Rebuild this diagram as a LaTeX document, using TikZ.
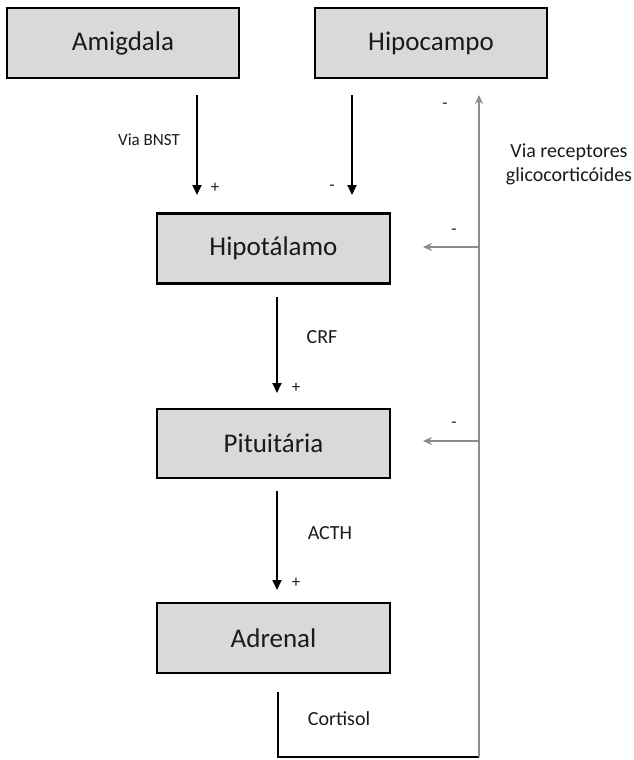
\documentclass[tikz,border=0pt]{standalone}
\usepackage{fontspec}
\setmainfont{Carlito}
\usetikzlibrary{arrows.meta}
\definecolor{boxgray}{HTML}{D9D9D9}
\definecolor{fbgray}{HTML}{8C8C8C}
\definecolor{txt}{HTML}{1A1A1A}
\begin{document}
\begin{tikzpicture}[x=1pt,y=-1pt,
  box/.style={draw=black, line width=2.2pt, fill=boxgray, inner sep=0pt,
    text=txt, font=\fontsize{27}{31}\selectfont},
  lbl/.style={text=txt, font=\fontsize{20}{24}\selectfont, inner sep=0pt},
  smalllbl/.style={text=txt, font=\fontsize{17}{20}\selectfont, inner sep=0pt},
  sign/.style={text=txt, font=\fontsize{17}{18}\selectfont, inner sep=0pt},
  blackarrow/.style={draw=black, line width=1.8pt, -{Triangle[length=10pt,width=9pt]}},
  grayarrow/.style={draw=fbgray, line width=2pt, -{Stealth[length=9pt,width=8pt]}}]
\useasboundingbox (0,0) rectangle (633,760);

% boxes
\node[box, minimum width=232pt, minimum height=70pt] (amig) at (123,43) {Amigdala};
\node[box, minimum width=232pt, minimum height=70pt] (hipoc) at (431,43) {Hipocampo};
\node[box, minimum width=233pt, minimum height=70pt] (hipot) at (273.5,248.5) {Hipotálamo};
\node[box, minimum width=233pt, minimum height=69pt] (pit) at (273.5,443.5) {Pituitária};
\node[box, minimum width=233pt, minimum height=70pt] (adr) at (273.5,638) {Adrenal};

% connector end points
\coordinate (a1) at (197,95);
\coordinate (a2) at (197,195);
\coordinate (h1) at (352,95);
\coordinate (h2) at (352,195);
\coordinate (c1) at (277,297);
\coordinate (c2) at (277,393);
\coordinate (t1) at (277,491);
\coordinate (t2) at (277,590);
\coordinate (k1) at (278,692);
\coordinate (k2) at (278,757);
\coordinate (k3) at (479,757);
\coordinate (k4) at (479,95);
\coordinate (f1) at (479,247);
\coordinate (f1e) at (423,247);
\coordinate (f2) at (479,441);
\coordinate (f2e) at (423,441);

% black arrows
\draw[blackarrow] (a1) -- (a2);
\draw[blackarrow] (h1) -- (h2);
\draw[blackarrow] (c1) -- (c2);
\draw[blackarrow] (t1) -- (t2);

% cortisol feedback
\draw[draw=black, line width=1.8pt] (k1) -- (k2) -- (k3);
\draw[grayarrow] (k3) -- (k4);
\draw[grayarrow] (f1) -- (f1e);
\draw[grayarrow] (f2) -- (f2e);

% labels
\node[smalllbl] (viabnst) at (149,140) {Via BNST};
\node[sign] (p1) at (215,188) {+};
\node[sign] (m1) at (332,188) {-};
\node[lbl] (crf) at (322,337) {CRF};
\node[sign] (p2) at (296,388) {+};
\node[lbl] (acth) at (330,533) {ACTH};
\node[sign] (p3) at (296,583) {+};
\node[lbl] (cort) at (339,719) {Cortisol};
\node[sign] (m2) at (445,106) {-};
\node[sign] (m3) at (454,232) {-};
\node[sign] (m4) at (454,425) {-};
\node[lbl, align=center] (via) at (569,164) {Via receptores\\glicocorticóides};
\end{tikzpicture}
\end{document}
